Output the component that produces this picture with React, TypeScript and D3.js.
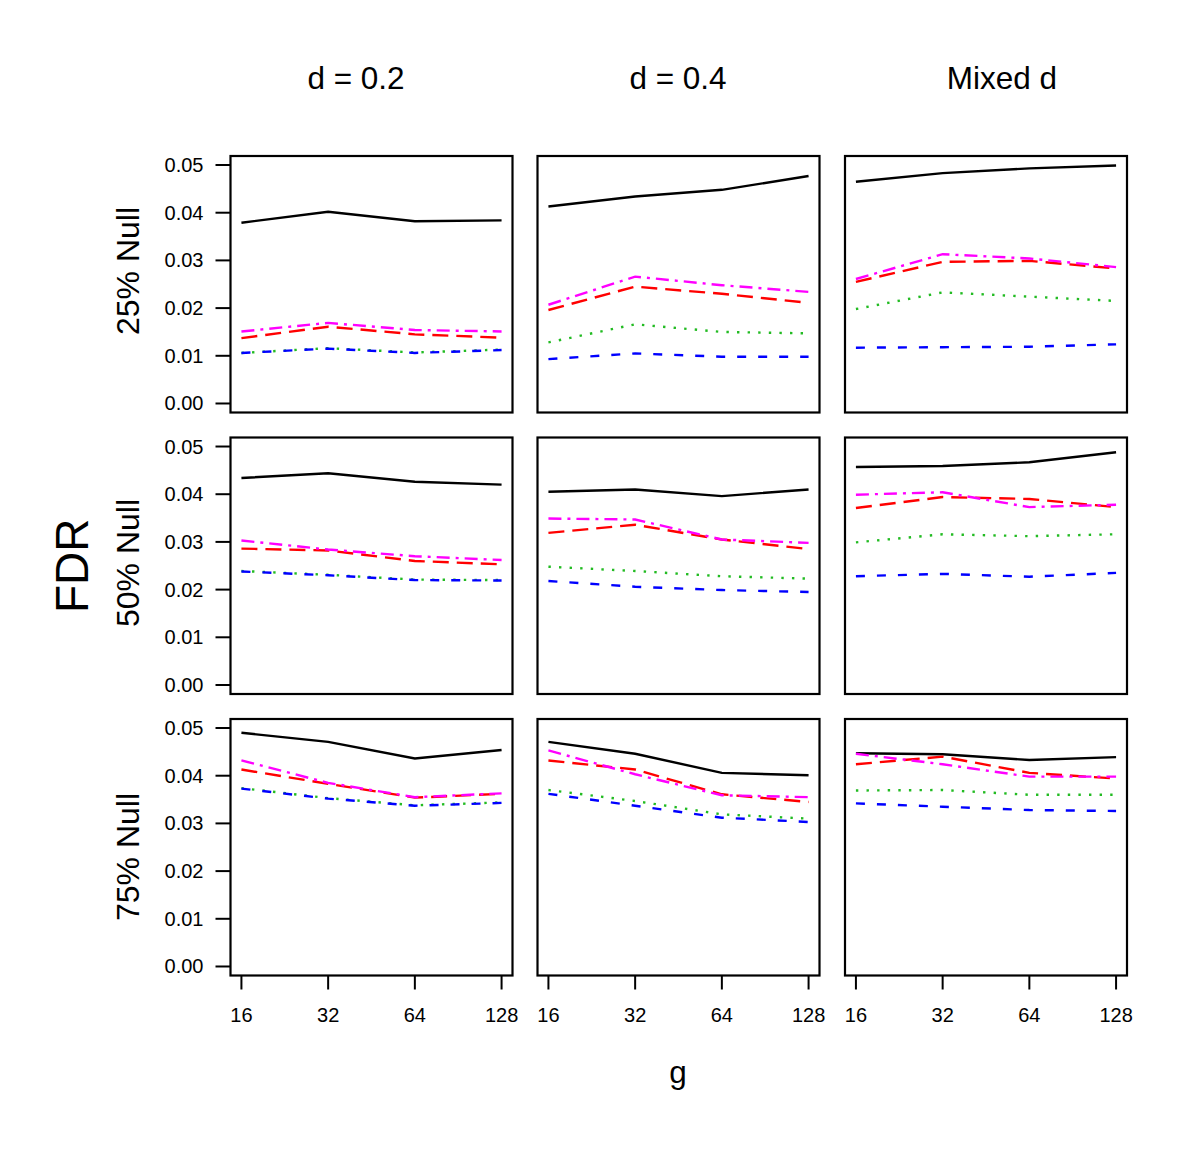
import React from "react";
import * as d3 from "d3";

// ---- data ----
const gValues = [16, 32, 64, 128];
const colTitles = ["d = 0.2", "d = 0.4", "Mixed d"];
const rowTitles = ["25% Null", "50% Null", "75% Null"];
const yTicks = [0, 0.01, 0.02, 0.03, 0.04, 0.05];

// series order: black solid, red longdash, green dotted, blue dashed, magenta dotdash
// each panel: [row][col]
const blackSeries = [
  [[0.0379, 0.0402, 0.0382, 0.0384], [0.0413, 0.0434, 0.0448, 0.0477], [0.0465, 0.0483, 0.0493, 0.0499]],
  [[0.0434, 0.0444, 0.0426, 0.0420], [0.0405, 0.0410, 0.0396, 0.0410], [0.0457, 0.0459, 0.0467, 0.0488]],
  [[0.0490, 0.0471, 0.0436, 0.0454], [0.0471, 0.0446, 0.0406, 0.0401], [0.0447, 0.0445, 0.0433, 0.0439]],
];
const redSeries = [
  [[0.0137, 0.0161, 0.0145, 0.0138], [0.0196, 0.0245, 0.0230, 0.0211], [0.0255, 0.0297, 0.0299, 0.0283]],
  [[0.0286, 0.0282, 0.0260, 0.0253], [0.0319, 0.0336, 0.0305, 0.0285], [0.0371, 0.0394, 0.0390, 0.0373]],
  [[0.0413, 0.0383, 0.0354, 0.0362], [0.0432, 0.0413, 0.0361, 0.0345], [0.0424, 0.0440, 0.0406, 0.0394]],
];
const greenSeries = [
  [[0.0106, 0.0116, 0.0107, 0.0113], [0.0128, 0.0166, 0.0150, 0.0147], [0.0198, 0.0233, 0.0224, 0.0215]],
  [[0.0239, 0.0231, 0.0221, 0.0220], [0.0248, 0.0239, 0.0228, 0.0223], [0.0299, 0.0316, 0.0312, 0.0316]],
  [[0.0374, 0.0353, 0.0338, 0.0344], [0.0370, 0.0347, 0.0319, 0.0310], [0.0369, 0.0370, 0.0360, 0.0360]],
];
const blueSeries = [
  [[0.0106, 0.0115, 0.0106, 0.0112], [0.0093, 0.0105, 0.0098, 0.0098], [0.0117, 0.0118, 0.0119, 0.0124]],
  [[0.0238, 0.0230, 0.0220, 0.0219], [0.0218, 0.0206, 0.0199, 0.0195], [0.0228, 0.0233, 0.0227, 0.0235]],
  [[0.0373, 0.0352, 0.0337, 0.0343], [0.0362, 0.0337, 0.0312, 0.0303], [0.0342, 0.0335, 0.0328, 0.0326]],
];
const magentaSeries = [
  [[0.0151, 0.0169, 0.0154, 0.0151], [0.0207, 0.0266, 0.0248, 0.0234], [0.0261, 0.0313, 0.0304, 0.0286]],
  [[0.0303, 0.0284, 0.0270, 0.0262], [0.0349, 0.0347, 0.0305, 0.0298], [0.0399, 0.0404, 0.0373, 0.0378]],
  [[0.0432, 0.0385, 0.0355, 0.0363], [0.0453, 0.0403, 0.0359, 0.0355], [0.0446, 0.0424, 0.0398, 0.0398]],
];

const seriesDefs = [
  { data: blackSeries, color: "#000000", dash: "none", width: 2.4 },
  { data: redSeries, color: "#ff0000", dash: "16,8", width: 2.4 },
  { data: greenSeries, color: "#22bb22", dash: "2.4,8.2", width: 2.4 },
  { data: blueSeries, color: "#0000ff", dash: "9,12", width: 2.4 },
  { data: magentaSeries, color: "#ff00ff", dash: "13,6,3,6", width: 2.4 },
];

// ---- layout ----
const W = 1200;
const H = 1159;
const panelW = 282;
const panelH = 256.5;
const colX = [230.5, 537.5, 845];
const rowY = [156, 437.5, 719];
const titleX = [356, 678, 1002];
const rowTitleY = [271, 563, 857];
const font = "'Liberation Sans', Arial, Helvetica, sans-serif";

const xScale = d3
  .scaleLinear()
  .domain([4 - 0.126, 7 + 0.126])
  .range([0, panelW]);
const yScale = d3
  .scaleLinear()
  .domain([-0.00189, 0.05189])
  .range([panelH, 0]);

const lineGen = d3
  .line<number>()
  .x((_, i) => xScale(Math.log2(gValues[i])))
  .y((v) => yScale(v));

export default function App() {
  return (
    <svg
      width={W}
      height={H}
      style={{ position: "absolute", left: 0, top: 0, background: "#fff" }}
      fontFamily={font}
    >
      <rect x={0} y={0} width={W} height={H} fill="#fff" />
      {colTitles.map((t, c) => (
        <text key={t} x={titleX[c]} y={89} textAnchor="middle" fontSize={31.5}>
          {t}
        </text>
      ))}
      {rowTitles.map((t, r) => (
        <text
          key={t}
          transform={`translate(128,${rowTitleY[r]}) rotate(-90)`}
          textAnchor="middle"
          dominantBaseline="central"
          fontSize={32}
        >
          {t}
        </text>
      ))}
      <text
        transform={`translate(72,${rowY[1] + panelH / 2}) rotate(-90)`}
        textAnchor="middle"
        dominantBaseline="central"
        fontSize={46}
      >
        FDR
      </text>
      <text x={678} y={1083} textAnchor="middle" fontSize={31.5}>
        g
      </text>
      {rowY.map((ry, r) =>
        colX.map((cx, c) => (
          <g key={`${r}-${c}`} transform={`translate(${cx},${ry})`}>
            {seriesDefs.map((s, si) => (
              <path
                key={si}
                d={lineGen(s.data[r][c]) || ""}
                fill="none"
                stroke={s.color}
                strokeWidth={s.width}
                strokeDasharray={s.dash}
              />
            ))}
            <rect x={0} y={0} width={panelW} height={panelH} fill="none" stroke="#000" strokeWidth={2.2} />
            {c === 0 &&
              yTicks.map((t) => (
                <g key={t} transform={`translate(0,${yScale(t)})`}>
                  <line x1={-15} x2={0} stroke="#000" strokeWidth={2} />
                  <text x={-27} textAnchor="end" dominantBaseline="central" fontSize={20}>
                    {t.toFixed(2)}
                  </text>
                </g>
              ))}
            {r === 2 &&
              gValues.map((g) => (
                <g key={g} transform={`translate(${xScale(Math.log2(g))},${panelH})`}>
                  <line y1={0} y2={14} stroke="#000" strokeWidth={2} />
                  <text y={46} textAnchor="middle" fontSize={20}>
                    {g}
                  </text>
                </g>
              ))}
          </g>
        ))
      )}
    </svg>
  );
}
